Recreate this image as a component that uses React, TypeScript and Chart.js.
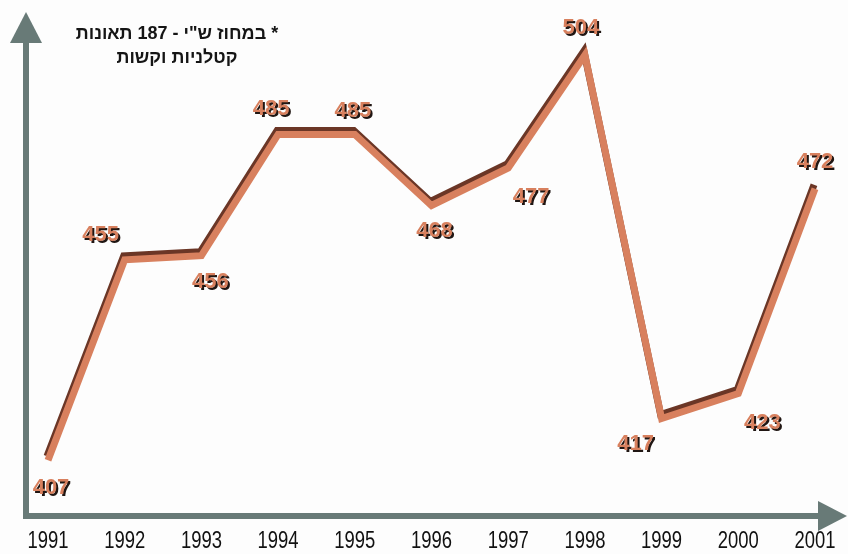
import React, { useEffect, useRef } from "react";
import { Chart, registerables } from "chart.js";

Chart.register(...registerables);

// ---- data ----
const years = ["1991", "1992", "1993", "1994", "1995", "1996", "1997", "1998", "1999", "2000", "2001"];
const accidents = [407, 455, 456, 485, 485, 468, 477, 504, 417, 423, 472];
const noteLines = ["* במחוז ש\"י - 187 תאונות", "קטלניות וקשות"];

// label placement (dx, dy from point) – style only
const labelOffsets: [number, number][] = [
  [3, 28], [-24, -25], [9, 26], [-7, -26], [-2, -24], [3, 25],
  [23, 29], [-4, -27], [-26, 25], [24, 29], [0, -27],
];

const AXIS_COLOR = "#687a77";
const LINE_COLOR = "#d8805e";
const SHADOW_COLOR = "#6b3626";

const bgPlugin = {
  id: "bg",
  beforeDraw(chart: any) {
    const { ctx, width, height } = chart;
    ctx.save();
    ctx.fillStyle = "#fdfdfd";
    ctx.fillRect(0, 0, width, height);
    ctx.restore();
  },
};

const arrowsPlugin = {
  id: "arrows",
  beforeDatasetsDraw(chart: any) {
    const { ctx, chartArea, width } = chart;
    const ax = chartArea.left - 22;
    const ay = Math.round(chartArea.bottom);
    ctx.save();
    ctx.fillStyle = AXIS_COLOR;
    // vertical shaft
    ctx.fillRect(ax - 3, chartArea.top + 26, 6, ay + 3 - (chartArea.top + 26));
    // vertical head
    ctx.beginPath();
    ctx.moveTo(ax, chartArea.top - 3);
    ctx.lineTo(ax - 16, chartArea.top + 28);
    ctx.lineTo(ax + 16, chartArea.top + 28);
    ctx.closePath();
    ctx.fill();
    // horizontal shaft
    ctx.fillRect(ax - 3, ay - 3, chartArea.right + 5 - (ax - 3), 6);
    // horizontal head
    ctx.beginPath();
    ctx.moveTo(width - 1, ay);
    ctx.lineTo(chartArea.right + 3, ay - 15);
    ctx.lineTo(chartArea.right + 3, ay + 15);
    ctx.closePath();
    ctx.fill();
    ctx.restore();
  },
};

const xLabelsPlugin = {
  id: "xLabels",
  afterDraw(chart: any) {
    const { ctx, chartArea } = chart;
    const scale = chart.scales.x;
    const labels = scale.getLabels() as string[];
    ctx.save();
    ctx.font = "23px 'Liberation Sans', Arial, sans-serif";
    ctx.fillStyle = "#111";
    ctx.textAlign = "center";
    ctx.textBaseline = "middle";
    labels.forEach((lab, i) => {
      const x = scale.getPixelForTick(i);
      ctx.fillText(lab, x, chartArea.bottom + 26, 41);
    });
    ctx.restore();
  },
};

const lineShadowPlugin = {
  id: "lineShadow",
  beforeDatasetDraw(chart: any) {
    const ctx = chart.ctx;
    ctx.save();
    ctx.shadowColor = SHADOW_COLOR;
    ctx.shadowOffsetX = -1;
    ctx.shadowOffsetY = -4;
    ctx.shadowBlur = 0;
  },
  afterDatasetDraw(chart: any) {
    chart.ctx.restore();
  },
};

const valueLabelsPlugin = {
  id: "valueLabels",
  afterDatasetsDraw(chart: any) {
    const { ctx } = chart;
    const meta = chart.getDatasetMeta(0);
    const data = chart.data.datasets[0].data as number[];
    ctx.save();
    ctx.font = "bold 22px 'Liberation Sans', Arial, sans-serif";
    ctx.textAlign = "center";
    ctx.textBaseline = "middle";
    meta.data.forEach((pt: any, i: number) => {
      const [dx, dy] = labelOffsets[i] || [0, -25];
      const x = pt.x + dx;
      const y = pt.y + dy;
      const txt = String(data[i]);
      ctx.shadowColor = "rgba(20,10,6,0.95)";
      ctx.shadowOffsetX = 2;
      ctx.shadowOffsetY = 2;
      ctx.shadowBlur = 0.5;
      ctx.fillStyle = LINE_COLOR;
      ctx.fillText(txt, x, y);
    });
    ctx.restore();
  },
};

const notePlugin = {
  id: "note",
  afterDraw(chart: any) {
    const { ctx, chartArea } = chart;
    ctx.save();
    ctx.font = "bold 18px 'Liberation Sans', 'DejaVu Sans', Arial, sans-serif";
    ctx.fillStyle = "#151515";
    ctx.textAlign = "center";
    ctx.textBaseline = "middle";
    (ctx as any).direction = "rtl";
    const cx = chartArea.left + 129;
    noteLines.forEach((line, i) => {
      ctx.fillText(line, cx, chartArea.top + 19 + i * 24);
    });
    ctx.restore();
  },
};

export default function App() {
  const ref = useRef<HTMLCanvasElement | null>(null);

  useEffect(() => {
    if (!ref.current) return;
    const chart = new Chart(ref.current, {
      type: "line",
      data: {
        labels: years,
        datasets: [
          {
            data: accidents,
            borderColor: LINE_COLOR,
            borderWidth: 7,
            borderJoinStyle: "miter",
            borderCapStyle: "butt",
            pointRadius: 0,
            pointHoverRadius: 0,
            tension: 0,
            fill: false,
            clip: false as any,
          },
        ],
      },
      options: {
        responsive: false,
        devicePixelRatio: 1,
        animation: false,
        events: [],
        layout: { padding: { left: 48, right: 33, top: 15, bottom: 38.5 } },
        plugins: {
          legend: { display: false },
          tooltip: { enabled: false },
          title: { display: false },
        },
        scales: {
          x: {
            type: "category",
            offset: false,
            display: false,
          },
          y: {
            display: false,
            min: 393.8,
            max: 513.6,
          },
        },
      },
      plugins: [bgPlugin, arrowsPlugin, lineShadowPlugin, valueLabelsPlugin, xLabelsPlugin, notePlugin],
    });
    return () => chart.destroy();
  }, []);

  return (
    <div style={{ position: "absolute", left: 0, top: 0, width: 848, height: 554 }}>
      <canvas ref={ref} width={848} height={554} style={{ display: "block" }} />
    </div>
  );
}
